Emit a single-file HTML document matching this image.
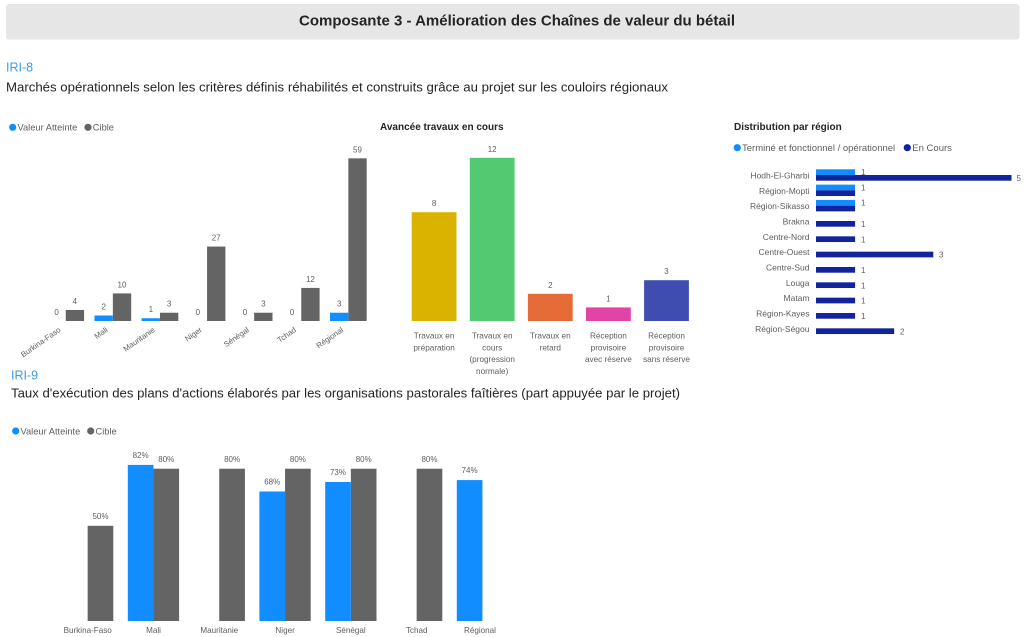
<!DOCTYPE html>
<html>
<head>
<meta charset="utf-8">
<style>
html,body{margin:0;padding:0;background:#fff;}
svg{display:block;}
text{font-family:"Liberation Sans",Arial,sans-serif;}
.lbl{fill:#605E5C;}
.val{fill:#605E5C;font-size:8px;}
</style>
</head>
<body>
<svg width="1024" height="637" viewBox="0 0 1024 637" xmlns="http://www.w3.org/2000/svg">
<rect x="0" y="0" width="1024" height="637" fill="#fff"/>
<!-- Header -->
<rect x="6" y="4" width="1013.5" height="35.5" rx="3" fill="#E6E6E6"/>
<text x="517" y="25.5" text-anchor="middle" font-size="15" font-weight="bold" fill="#252423" textLength="436" lengthAdjust="spacingAndGlyphs">Composante 3 - Amélioration des Chaînes de valeur du bétail</text>

<!-- IRI-8 -->
<text x="6" y="71.7" font-size="12.5" fill="#3C9CE6">IRI-8</text>
<text x="6" y="91.7" font-size="13" fill="#252423" textLength="662" lengthAdjust="spacingAndGlyphs">Marchés opérationnels selon les critères définis réhabilités et construits grâce au projet sur les couloirs régionaux</text>

<!-- Top-left chart legend -->
<circle cx="12.7" cy="127.3" r="3.6" fill="#118DFF"/>
<text x="17.5" y="130.6" font-size="9.3" class="lbl">Valeur Atteinte</text>
<circle cx="88" cy="127.3" r="3.6" fill="#646464"/>
<text x="92.8" y="130.6" font-size="9.3" class="lbl">Cible</text>

<!-- Top-left bars -->
<g fill="#646464">
<rect x="65.75" y="309.97" width="18.35" height="11.03"/>
<rect x="112.85" y="293.43" width="18.35" height="27.57"/>
<rect x="159.95" y="312.73" width="18.35" height="8.27"/>
<rect x="207.05" y="246.56" width="18.35" height="74.44"/>
<rect x="254.15" y="312.73" width="18.35" height="8.27"/>
<rect x="301.25" y="287.92" width="18.35" height="33.08"/>
<rect x="348.35" y="158.34" width="18.35" height="162.66"/>
</g>
<g fill="#118DFF">
<rect x="94.5" y="315.49" width="18.35" height="5.51"/>
<rect x="141.6" y="318.24" width="18.35" height="2.76"/>
<rect x="330" y="312.73" width="18.35" height="8.27"/>
</g>
<g class="val" text-anchor="middle">
<text x="56.6" y="315">0</text>
<text x="103.7" y="309.5">2</text>
<text x="150.8" y="312.2">1</text>
<text x="197.9" y="315">0</text>
<text x="245" y="315">0</text>
<text x="292.1" y="315">0</text>
<text x="339.2" y="306.7">3</text>
<text x="74.9" y="304">4</text>
<text x="122" y="287.4">10</text>
<text x="169.1" y="306.7">3</text>
<text x="216.2" y="240.6">27</text>
<text x="263.3" y="306.7">3</text>
<text x="310.4" y="281.9">12</text>
<text x="357.5" y="152.3">59</text>
</g>
<g class="lbl" font-size="7.8" text-anchor="end">
<text transform="translate(61.2,331) rotate(-35)">Burkina-Faso</text>
<text transform="translate(108.3,331) rotate(-35)">Mali</text>
<text transform="translate(155.4,331) rotate(-35)">Mauritanie</text>
<text transform="translate(202.5,331) rotate(-35)">Niger</text>
<text transform="translate(249.6,331) rotate(-35)">Sénégal</text>
<text transform="translate(296.7,331) rotate(-35)">Tchad</text>
<text transform="translate(343.8,331) rotate(-35)">Régional</text>
</g>

<!-- Middle chart -->
<text x="380" y="130" font-size="10" font-weight="bold" fill="#252423">Avancée travaux en cours</text>
<rect x="411.7" y="212.2" width="44.8" height="108.8" fill="#D9B300"/>
<rect x="469.8" y="157.8" width="44.8" height="163.2" fill="#53C971"/>
<rect x="527.9" y="293.8" width="44.8" height="27.2" fill="#E66C37"/>
<rect x="586" y="307.4" width="44.8" height="13.6" fill="#E044A7"/>
<rect x="644.1" y="280.2" width="44.8" height="40.8" fill="#3F4DB0"/>
<g class="val" text-anchor="middle">
<text x="434.1" y="206.2">8</text>
<text x="492.2" y="151.8">12</text>
<text x="550.3" y="287.8">2</text>
<text x="608.4" y="301.4">1</text>
<text x="666.5" y="274.2">3</text>
</g>
<g class="lbl" font-size="8.2" text-anchor="middle">
<text x="434.1" y="338.5">Travaux en</text>
<text x="434.1" y="350.3">préparation</text>
<text x="492.2" y="338.5">Travaux en</text>
<text x="492.2" y="350.3">cours</text>
<text x="492.2" y="362.1">(progression</text>
<text x="492.2" y="373.9">normale)</text>
<text x="550.3" y="338.5">Travaux en</text>
<text x="550.3" y="350.3">retard</text>
<text x="608.4" y="338.5">Réception</text>
<text x="608.4" y="350.3">provisoire</text>
<text x="608.4" y="362.1">avec réserve</text>
<text x="666.5" y="338.5">Réception</text>
<text x="666.5" y="350.3">provisoire</text>
<text x="666.5" y="362.1">sans réserve</text>
</g>

<!-- Right chart -->
<text x="734" y="130" font-size="10" font-weight="bold" fill="#252423">Distribution par région</text>
<circle cx="737.3" cy="147.7" r="3.6" fill="#118DFF"/>
<text x="742" y="151" font-size="9.5" class="lbl">Terminé et fonctionnel / opérationnel</text>
<circle cx="907.3" cy="147.7" r="3.6" fill="#12239E"/>
<text x="912.3" y="151" font-size="9.5" class="lbl">En Cours</text>

<g fill="#118DFF">
<rect x="816" y="169.3" width="39.1" height="5.7"/>
<rect x="816" y="184.63" width="39.1" height="5.7"/>
<rect x="816" y="199.97" width="39.1" height="5.7"/>
</g>
<g fill="#12239E">
<rect x="816" y="175" width="195.5" height="5.7"/>
<rect x="816" y="190.33" width="39.1" height="5.7"/>
<rect x="816" y="205.67" width="39.1" height="5.7"/>
<rect x="816" y="221" width="39.1" height="5.7"/>
<rect x="816" y="236.33" width="39.1" height="5.7"/>
<rect x="816" y="251.67" width="117.3" height="5.7"/>
<rect x="816" y="267" width="39.1" height="5.7"/>
<rect x="816" y="282.33" width="39.1" height="5.7"/>
<rect x="816" y="297.67" width="39.1" height="5.7"/>
<rect x="816" y="313" width="39.1" height="5.7"/>
<rect x="816" y="328.33" width="78.2" height="5.7"/>
</g>
<g class="val" font-size="7.5">
<text x="861" y="175">1</text>
<text x="1016.5" y="181">5</text>
<text x="861" y="190.3">1</text>
<text x="861" y="205.7">1</text>
<text x="861" y="227">1</text>
<text x="861" y="242.3">1</text>
<text x="939" y="257.7">3</text>
<text x="861" y="273">1</text>
<text x="861" y="288.3">1</text>
<text x="861" y="303.7">1</text>
<text x="861" y="319">1</text>
<text x="900" y="334.3">2</text>
</g>
<g class="lbl" font-size="8.5" text-anchor="end">
<text x="809.5" y="178.5">Hodh-El-Gharbi</text>
<text x="809.5" y="193.8">Région-Mopti</text>
<text x="809.5" y="209.2">Région-Sikasso</text>
<text x="809.5" y="224.5">Brakna</text>
<text x="809.5" y="239.8">Centre-Nord</text>
<text x="809.5" y="255.2">Centre-Ouest</text>
<text x="809.5" y="270.5">Centre-Sud</text>
<text x="809.5" y="285.8">Louga</text>
<text x="809.5" y="301.2">Matam</text>
<text x="809.5" y="316.5">Région-Kayes</text>
<text x="809.5" y="331.8">Région-Ségou</text>
</g>

<!-- IRI-9 -->
<text x="11" y="379.3" font-size="12.5" fill="#3C9CE6">IRI-9</text>
<text x="11" y="397.7" font-size="13" fill="#252423" textLength="669" lengthAdjust="spacingAndGlyphs">Taux d'exécution des plans d'actions élaborés par les organisations pastorales faîtières (part appuyée par le projet)</text>

<circle cx="15.7" cy="431" r="3.6" fill="#118DFF"/>
<text x="20.5" y="434.3" font-size="9.3" class="lbl">Valeur Atteinte</text>
<circle cx="90.7" cy="431" r="3.6" fill="#646464"/>
<text x="95.5" y="434.3" font-size="9.3" class="lbl">Cible</text>

<g fill="#646464">
<rect x="87.65" y="525.8" width="25.65" height="95.2"/>
<rect x="153.45" y="468.7" width="25.65" height="152.3"/>
<rect x="219.25" y="468.7" width="25.65" height="152.3"/>
<rect x="285.05" y="468.7" width="25.65" height="152.3"/>
<rect x="350.85" y="468.7" width="25.65" height="152.3"/>
<rect x="416.65" y="468.7" width="25.65" height="152.3"/>
</g>
<g fill="#118DFF">
<rect x="127.8" y="464.9" width="25.65" height="156.1"/>
<rect x="259.4" y="491.5" width="25.65" height="129.5"/>
<rect x="325.2" y="482" width="25.65" height="139"/>
<rect x="456.8" y="480.1" width="25.65" height="140.9"/>
</g>
<g class="val" font-size="7.5" text-anchor="middle">
<text x="100.5" y="519">50%</text>
<text x="140.6" y="458">82%</text>
<text x="166.3" y="461.8">80%</text>
<text x="232.1" y="461.8">80%</text>
<text x="272.2" y="484.6">68%</text>
<text x="297.9" y="461.8">80%</text>
<text x="338" y="475.1">73%</text>
<text x="363.7" y="461.8">80%</text>
<text x="429.5" y="461.8">80%</text>
<text x="469.6" y="473.2">74%</text>
</g>
<g class="lbl" font-size="8.1" text-anchor="middle">
<text x="87.7" y="633">Burkina-Faso</text>
<text x="153.5" y="633">Mali</text>
<text x="219.3" y="633">Mauritanie</text>
<text x="285.1" y="633">Niger</text>
<text x="350.9" y="633">Sénégal</text>
<text x="416.7" y="633">Tchad</text>
<text x="480" y="633">Régional</text>
</g>
</svg>
</body>
</html>
